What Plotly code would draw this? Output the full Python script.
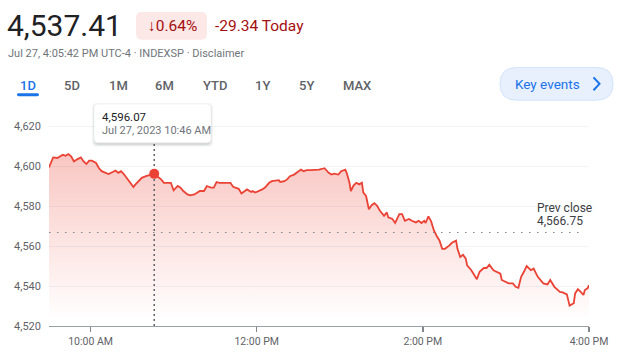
import pandas as pd
import plotly.graph_objects as go

# ---------------- data ----------------
session_date = "2023-07-27"
open_time = "09:30"
minutes_after_open = [0,3,6,10,12,14,16,18,20,23,25,27,29,31,34,36,38,41,43,46,48,50,52,54,56,59,61,62,65,67,70,72,76,78,81,83,85,88,90,93,95,97,100,102,105,107,109,112,114,117,119,121,123,126,129,131,133,137,139,142,143,146,147,149,152,154,156,159,161,164,166,167,170,172,174,177,179,182,184,186,189,191,195,197,199,202,204,206,209,211,213,214,215,217,218,220,222,224,226,227,229,231,233,235,237,239,242,244,245,248,250,253,255,257,260,262,265,267,269,271,272,274,276,278,280,282,284,286,289,291,294,295,297,299,301,302,305,307,309,311,314,316,318,321,323,326,327,330,332,335,337,339,341,343,345,348,350,353,355,357,360,362,365,367,369,371,374,376,379,380,382,384,386,387,389,390]
index_values = [4599.3,4604.3,4604.0,4605.6,4605.1,4606.0,4604.8,4602.3,4603.2,4604.3,4602.3,4601.0,4602.7,4602.7,4601.5,4599.0,4597.4,4596.6,4596.0,4597.0,4597.7,4596.6,4597.4,4596.0,4594.1,4591.6,4589.5,4590.4,4592.4,4594.1,4594.9,4595.4,4596.07,4594.9,4593.3,4591.6,4591.6,4591.6,4587.8,4590.0,4589.2,4587.5,4585.8,4585.3,4585.8,4586.7,4587.5,4587.5,4590.0,4589.2,4589.2,4592.0,4591.6,4591.6,4591.6,4591.6,4589.6,4588.6,4586.3,4587.5,4588.3,4587.0,4587.5,4586.7,4587.5,4588.3,4589.2,4591.6,4592.4,4592.9,4592.9,4592.0,4592.4,4593.3,4594.9,4595.7,4596.6,4598.2,4597.4,4597.9,4597.9,4597.9,4598.2,4598.5,4598.9,4596.6,4595.7,4596.2,4595.7,4597.4,4597.9,4598.2,4596.6,4591.6,4587.5,4590.3,4591.6,4590.8,4591.6,4586.7,4585.0,4578.4,4580.4,4581.4,4580.1,4577.6,4575.1,4576.8,4574.3,4573.5,4571.5,4575.9,4575.9,4572.6,4573.5,4572.6,4571.8,4572.6,4571.5,4572.6,4571.5,4574.8,4572.3,4567.8,4565.0,4562.8,4558.6,4558.6,4560.2,4561.6,4562.7,4558.6,4554.5,4555.6,4553.7,4550.3,4547.9,4545.4,4543.4,4547.1,4549.0,4549.0,4550.7,4547.9,4547.1,4546.2,4543.0,4541.8,4541.3,4541.3,4539.6,4539.1,4544.6,4547.1,4550.0,4547.9,4548.7,4544.6,4543.0,4541.3,4540.8,4543.0,4539.6,4538.4,4537.1,4536.8,4535.8,4530.2,4531.4,4536.3,4538.4,4537.1,4535.5,4538.0,4538.8,4540.4]

prev_close = 4566.75
hover_minute = 76
hover_value = 4596.07

y_ticks = [4520, 4540, 4560, 4580, 4600, 4620]
y_tick_labels = ["4,520", "4,540", "4,560", "4,580", "4,600", "4,620"]
x_tick_times = ["10:00", "12:00", "14:00", "16:00"]
x_tick_labels = ["10:00 AM", "12:00 PM", "2:00 PM", "4:00 PM"]

price_text = "4,537.41"
change_pct_text = "↓0.64%"
change_text = "-29.34 Today"
sub_text = "Jul 27, 4:05:42 PM UTC-4 · INDEXSP · Disclaimer"
ranges = ["1D", "5D", "1M", "6M", "YTD", "1Y", "5Y", "MAX"]
tooltip_value_text = "4,596.07"
tooltip_date_text = "Jul 27, 2023 10:46 AM"

# ---------------- derived ----------------
t0 = pd.Timestamp(f"{session_date} {open_time}")
times = t0 + pd.to_timedelta(minutes_after_open, unit="min")
hover_t = t0 + pd.Timedelta(minutes=hover_minute)
x_ticks = [pd.Timestamp(f"{session_date} {t}") for t in x_tick_times]
x_start = t0
x_end = pd.Timestamp(f"{session_date} 16:00")

W, H = 629, 360
ML, MR, MT, MB = 49, 40, 116, 32
PW, PH = W - ML - MR, H - MT - MB

def px(x):
    return (x - ML) / PW

def py(y):
    return (H - MB - y) / PH

def rrect_path(x0, y0, x1, y1, r):
    pts = [
        ("M", [(x0 + r, y0)]), ("L", [(x1 - r, y0)]), ("Q", [(x1, y0), (x1, y0 + r)]),
        ("L", [(x1, y1 - r)]), ("Q", [(x1, y1), (x1 - r, y1)]),
        ("L", [(x0 + r, y1)]), ("Q", [(x0, y1), (x0, y1 - r)]),
        ("L", [(x0, y0 + r)]), ("Q", [(x0, y0), (x0 + r, y0)]),
    ]
    s = ""
    for cmd, ps in pts:
        s += cmd + " " + " ".join(f"{px(a):.5f},{py(b):.5f}" for a, b in ps) + " "
    return s + "Z"

RED = "#ea4335"
FONT = "Roboto"

fig = go.Figure()

fig.add_trace(go.Scatter(
    x=times, y=index_values, mode="lines",
    line=dict(color=RED, width=1.8),
    fill="tozeroy",
    fillgradient=dict(type="vertical", start=4524, stop=4606,
                      colorscale=[[0, "rgba(234,67,53,0.0)"], [1, "rgba(234,67,53,0.30)"]]),
    hoverinfo="skip", showlegend=False,
))

# vertical crosshair
fig.add_trace(go.Scatter(
    x=[hover_t, hover_t], y=[y_ticks[0], 4613], mode="lines",
    line=dict(color="#5f6368", width=1.5, dash="2px,3px"),
    hoverinfo="skip", showlegend=False,
))
fig.add_trace(go.Scatter(
    x=[hover_t], y=[hover_value], mode="markers",
    marker=dict(color=RED, size=10, line=dict(width=0)),
    hoverinfo="skip", showlegend=False,
))

shapes = []
# prev close dotted line
shapes.append(dict(type="line", xref="paper", yref="y", x0=0, x1=px(584), y0=prev_close, y1=prev_close,
                   line=dict(color="#80868b", width=1, dash="1.5px,6.5px"), layer="above"))
# tooltip shadow + box
for off, op in [(3, 0.05), (2, 0.07), (1, 0.10)]:
    shapes.append(dict(type="path", xref="paper", yref="paper",
                       path=rrect_path(94 - off + 1, 104 - off + 2, 211 + off - 1, 143 + off + 1, 5),
                       fillcolor=f"rgba(60,64,67,{op})", line=dict(width=0), layer="above"))
shapes.append(dict(type="path", xref="paper", yref="paper", path=rrect_path(94, 104, 211, 143, 4),
                   fillcolor="white", line=dict(color="#e8eaed", width=0.5), layer="above"))
# change badge
shapes.append(dict(type="path", xref="paper", yref="paper", path=rrect_path(136, 11, 207, 39, 6),
                   fillcolor="#fce8e6", line=dict(width=0), layer="above"))
# 1D underline
shapes.append(dict(type="path", xref="paper", yref="paper", path=rrect_path(17, 93, 39, 96, 1.5),
                   fillcolor="#1a73e8", line=dict(width=0), layer="above"))
# key events pill
shapes.append(dict(type="path", xref="paper", yref="paper", path=rrect_path(500, 67, 613, 100, 16.5),
                   fillcolor="#e8f0fe", line=dict(color="#d2e3fc", width=1), layer="above"))
# chevron
shapes.append(dict(type="path", xref="paper", yref="paper",
                   path=f"M {px(593.5):.5f},{py(77):.5f} L {px(599.5):.5f},{py(83.5):.5f} L {px(593.5):.5f},{py(90):.5f}",
                   line=dict(color="#1a73e8", width=2), layer="above"))

ann = []
def text(x, y, s, size, color, xanchor="left", weight=None):
    f = dict(family=FONT, size=size, color=color)
    if weight:
        f["weight"] = weight
    ann.append(dict(x=px(x), y=py(y), xref="paper", yref="paper", text=s, showarrow=False,
                    xanchor=xanchor, yanchor="middle", font=f))

text(5, 25, price_text, 30, "#202124")
text(172, 25, change_pct_text, 15.5, "#a50e0e", xanchor="center")
text(213, 25, change_text, 15.5, "#a50e0e")
text(6, 53, sub_text, 11, "#70757a")
tab_x = [28, 72, 118, 164, 215, 262, 306, 357]
for lab, xx in zip(ranges, tab_x):
    text(xx, 85, lab, 13, "#1a73e8" if lab == "1D" else "#5f6368", xanchor="center", weight=500)
text(547, 83.5, "Key events", 13.5, "#1a73e8", xanchor="center")
text(100, 117, tooltip_value_text, 11.5, "#202124")
text(100, 130.5, tooltip_date_text, 11, "#70757a")
text(535, 209, "Prev close", 12, "#3c4043")
text(535, 222, f"{prev_close:,.2f}", 12, "#3c4043")

fig.update_layout(
    width=W, height=H, margin=dict(l=ML, r=MR, t=MT, b=MB),
    paper_bgcolor="white", plot_bgcolor="white",
    shapes=shapes, annotations=ann, showlegend=False, hovermode=False,
    font=dict(family=FONT),
)
fig.update_xaxes(
    type="date", range=[x_start, x_end], tickvals=x_ticks, ticktext=x_tick_labels,
    showgrid=False, zeroline=False, showline=True, linecolor="#9aa0a6", linewidth=1,
    ticks="outside", ticklen=5, tickwidth=1.5, tickcolor="#80868b",
    tickfont=dict(family=FONT, size=10.5, color="#5f6368"), fixedrange=True,
)
fig.update_yaxes(
    range=[y_ticks[0], 4625], tickvals=y_ticks, ticktext=y_tick_labels,
    showgrid=True, gridcolor="#f1f3f4", gridwidth=1, zeroline=False, showline=False,
    ticks="", ticklabelstandoff=7,
    tickfont=dict(family=FONT, size=11, color="#5f6368"), fixedrange=True,
)

fig.write_html("out.html", config=dict(displayModeBar=False, staticPlot=True))
